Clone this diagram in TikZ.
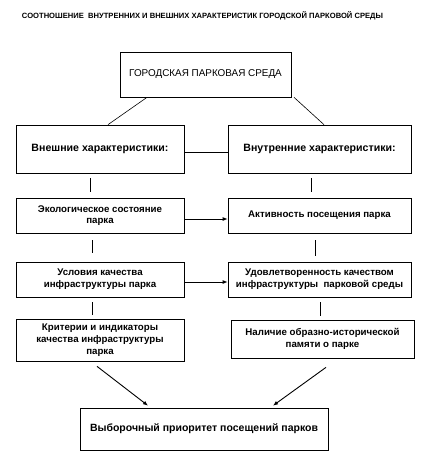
\documentclass[tikz,border=0pt]{standalone}
\usepackage{fontspec}
\setmainfont{Liberation Sans}
\usetikzlibrary{arrows.meta}
\begin{document}
\begin{tikzpicture}[x=1pt,y=-1pt,
  box/.style={draw,line width=0.7pt,align=center,inner sep=1pt,font=\bfseries\fontsize{9.7}{11.7}\selectfont},
  lw/.style={minimum width=168pt},
  rw/.style={minimum width=183pt},
  conn/.style={line width=0.6pt},
  arr/.style={line width=0.9pt,-{Latex[length=5pt,width=4pt]}}]
\useasboundingbox (0,0) rectangle (427,466);
\node[font=\bfseries\fontsize{7.6}{8}\selectfont] (title) at (202.5,16) {СООТНОШЕНИЕ\ \ ВНУТРЕННИХ И ВНЕШНИХ ХАРАКТЕРИСТИК ГОРОДСКОЙ ПАРКОВОЙ СРЕДЫ};
\node[box,font=\fontsize{9.9}{11}\selectfont,minimum width=171pt,minimum height=45pt] (top) at (205.5,74.5) {ГОРОДСКАЯ ПАРКОВАЯ СРЕДА};
\node[box,lw,minimum height=48pt,font=\bfseries\fontsize{10.6}{12}\selectfont] (ext) at (100,149) {Внешние характеристики:};
\node[box,rw,minimum height=48pt,font=\bfseries\fontsize{10.6}{12}\selectfont] (int) at (319.5,149) {Внутренние характеристики:};
\node[box,lw,minimum height=35pt] (eco) at (100,215.5) {Экологическое состояние\\парка};
\node[box,rw,minimum height=35pt] (act) at (319.5,215.5) {Активность посещения парка};
\node[box,lw,minimum height=35pt] (usl) at (100,279.5) {Условия качества\\инфраструктуры парка};
\node[box,rw,minimum height=35pt] (udo) at (319.5,279.5) {Удовлетворенность качеством\\инфраструктуры\ \ парковой среды};
\node[box,lw,minimum height=42pt] (kri) at (100,340) {Критерии и индикаторы\\качества инфраструктуры\\парка};
\node[box,rw,minimum height=38pt] (nal) at (322.5,339) {Наличие образно-исторической\\памяти о парке};
\node[box,minimum width=248pt,minimum height=42pt,font=\bfseries\fontsize{10.5}{12}\selectfont] (vyb) at (204,429) {Выборочный приоритет посещений парков};
% top diagonals
\draw[conn] ([xshift=-58.5pt]top.south) -- ([xshift=8pt]ext.north);
\draw[conn] ([xshift=88.5pt]top.south) -- ([xshift=4.5pt]int.north);
\draw[conn] ([yshift=-3pt]ext.east) -- ([yshift=-3pt]int.west);
% vertical ticks
\draw[conn] ([xshift=-10pt,yshift=-5pt]ext.south) -- ([xshift=-10pt,yshift=6pt]eco.north);
\draw[conn] ([xshift=-8.5pt,yshift=-5pt]int.south) -- ([xshift=-8.5pt,yshift=6pt]act.north);
\draw[conn] ([xshift=-8pt,yshift=-7pt]eco.south) -- ([xshift=-8pt,yshift=9pt]usl.north);
\draw[conn] ([xshift=-4.5pt,yshift=-7pt]act.south) -- ([xshift=-4.5pt,yshift=6pt]udo.north);
\draw[conn] ([xshift=-8pt,yshift=-5pt]usl.south) -- ([xshift=-8pt,yshift=4pt]kri.north);
\draw[conn] ([xshift=0.5pt,yshift=-5pt]udo.south) -- ([xshift=-2.5pt,yshift=4pt]nal.north);
% horizontal arrows
\draw[arr] ([yshift=-3.5pt]eco.east) -- ([yshift=-3.5pt]act.west);
\draw[arr] ([yshift=-2.5pt]usl.east) -- ([yshift=-2.5pt]udo.west);
% bottom arrows
\draw[arr] ([xshift=-3pt,yshift=-5pt]kri.south) -- ([xshift=-56pt,yshift=2pt]vyb.north);
\draw[arr] ([xshift=3.5pt,yshift=-9pt]nal.south) -- ([xshift=69pt,yshift=2pt]vyb.north);
\end{tikzpicture}
\end{document}
